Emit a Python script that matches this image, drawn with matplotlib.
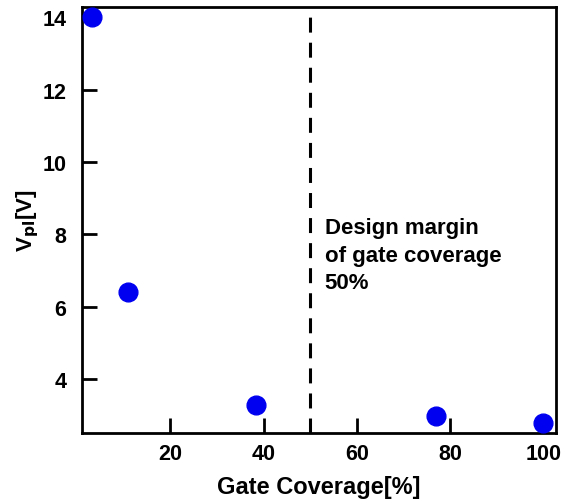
import numpy as np
import matplotlib.pyplot as plt

plt.rcParams['font.family'] = ['Liberation Sans', 'DejaVu Sans']
plt.rcParams['font.weight'] = 'bold'

coverage = [3.2, 11.0, 38.3, 77.0, 99.8]
vpl = [14.0, 6.4, 3.27, 2.98, 2.77]
margin = 50

fig = plt.figure(figsize=(5.64, 5.02), dpi=100)
ax = fig.add_axes([0.145, 0.135, 0.841, 0.849])

ax.scatter(coverage, vpl, s=13.5 ** 2, color='#0000f0', zorder=3, clip_on=False)
ax.axvline(margin, ymax=0.985, color='black', linestyle=(0, (4.9, 3.3)), linewidth=2.2)
ax.text(53.1, 8.47, "Design margin\nof gate coverage\n50%", fontsize=16,
        fontweight='bold', va='top', ha='left', linespacing=1.4)

ax.set_xlim(1.1, 102.6)
ax.set_ylim(2.5, 14.28)
ax.set_xticks([20, 40, 60, 80, 100])
ax.set_yticks([4, 6, 8, 10, 12, 14])
ax.tick_params(direction='in', length=11, width=2, labelsize=15.5, pad=7)
ax.tick_params(axis='y', pad=11)
for lab in ax.get_xticklabels() + ax.get_yticklabels():
    lab.set_fontweight('bold')
for sp in ax.spines.values():
    sp.set_linewidth(2)

ax.set_xlabel("Gate Coverage[%]", fontsize=17, fontweight='bold', labelpad=8)
ax.set_ylabel(r"V$_{\mathbf{pl}}$[V]", fontsize=16, fontweight='bold', labelpad=1)

fig.savefig("out.png", dpi=100)
